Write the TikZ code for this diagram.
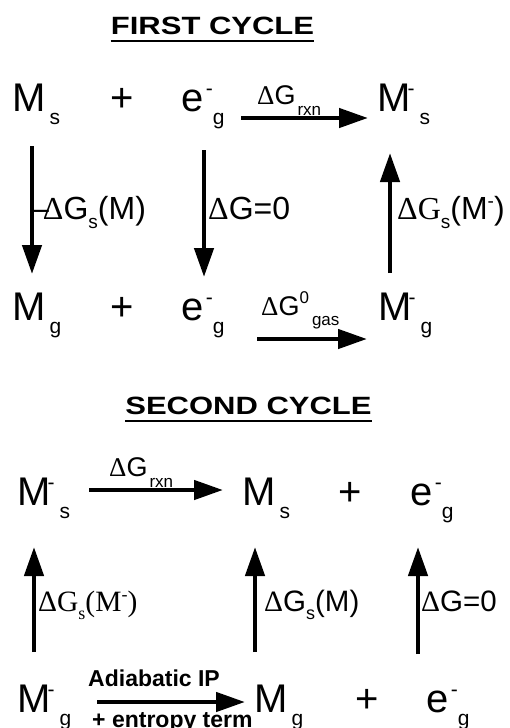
\documentclass[tikz,border=0pt]{standalone}
\usepackage{fontspec}
\setmainfont{Liberation Sans}
\newfontfamily\serifnt{Liberation Serif}
\newfontfamily\titlefnt[FakeStretch=1.24]{Liberation Sans}
\usetikzlibrary{arrows.meta,calc}
\newcommand\bigsz{\fontsize{40}{40}\selectfont}
\newcommand\smsz{\fontsize{21}{21}\selectfont}
\newcommand\lblsz{\fontsize{29.5}{29.5}\selectfont}
\newcommand\lblbig{\fontsize{32}{32}\selectfont}
\newcommand\lblsub{\fontsize{18}{18}\selectfont}
\newcommand\lblsubb{\fontsize{19}{19}\selectfont}
\newcommand\rxnsz{\fontsize{27}{27}\selectfont}
\newcommand\rxnsub{\fontsize{17}{17}\selectfont}
% base, sup, sub, supkern, subkern
\newcommand\spec[5]{#1\rlap{\kern#4\raisebox{16pt}{\smsz #2}}\kern#5\raisebox{-13pt}{\smsz #3}}
\tikzset{
 spc/.style={anchor=base west, inner sep=0pt, font=\bigsz},
 lbl/.style={anchor=base west, inner sep=0pt, font=\lblsz},
 lblb/.style={anchor=base west, inner sep=0pt, font=\lblbig},
 rlbl/.style={anchor=base west, inner sep=0pt, font=\rxnsz},
 ttl/.style={anchor=base, inner sep=0pt, font=\titlefnt\bfseries\fontsize{25}{25}\selectfont},
 boldtxt/.style={anchor=base west, inner sep=0pt, font=\bfseries\fontsize{23}{23}\selectfont},
 arr/.style={line width=4.5pt, -{Triangle[length=29pt,width=19pt]}},
 uline/.style={line width=2.5pt}
}
\begin{document}
\begin{tikzpicture}[x=1pt,y=-1pt]
\fill[white] (0,0) rectangle (510,728);
\useasboundingbox (0,0) rectangle (510,728);
% ---------- FIRST CYCLE ----------
\node[ttl] (t1) at (212.5,34) {FIRST CYCLE};
\draw[uline] ($(t1.base west)+(0,7)$) -- ($(t1.base east)+(0,7)$);
% row 1
\node[spc] (Ms1) at (12,111) {\spec{M}{}{s}{0pt}{4pt}};
\node[spc] (p1) at (110,111) {+};
\node[spc] (e1) at (181.5,111) {\spec{e}{-}{g}{2pt}{9pt}};
\node[spc] (Mm1) at (377,111) {\spec{M}{-}{s}{-3pt}{9pt}};
\coordinate (r1s) at (241,118);
\coordinate (r1e) at (368,118);
\draw[arr] (r1s) -- (r1e);
\node[rlbl] (lr1) at (257,104) {{\serifnt Δ}G\kern2pt\raisebox{-11pt}{\rxnsub rxn}};
% row 2
\node[spc] (Mg2) at (12,320) {\spec{M}{}{g}{0pt}{4pt}};
\node[spc] (p2) at (110,320) {+};
\node[spc] (e2) at (181.5,320) {\spec{e}{-}{g}{2pt}{9pt}};
\node[spc] (Mm2) at (378,320) {\spec{M}{-}{g}{-3pt}{9pt}};
\coordinate (r2s) at (257,339);
\coordinate (r2e) at (367,339);
\draw[arr] (r2s) -- (r2e);
\node[rlbl] (lr2) at (261,315) {{\serifnt Δ}G\raisebox{12pt}{\rxnsub 0}\kern3pt\raisebox{-10pt}{\rxnsub gas}};
% vertical arrows
\coordinate (v1s) at (32,146);
\coordinate (v1e) at (32,274);
\coordinate (v2s) at (204,150);
\coordinate (v2e) at (204,277);
\coordinate (v3s) at (390,273);
\coordinate (v3e) at (390,153);
\draw[arr] (v1s) -- (v1e);
\draw[arr] (v2s) -- (v2e);
\draw[arr] (v3s) -- (v3e);
\node[lblb] (L1) at (31,219) {–\kern-6pt{\serifnt Δ}G\raisebox{-9pt}{\lblsubb s}(M)};
\node[lblb] (L2) at (208,219) {{\serifnt Δ}G=0};
\node[lblb] (L3) at (397,219) {{\serifnt ΔG}\raisebox{-9pt}{\lblsubb s}(M\raisebox{12pt}{\lblsubb -})};
% ---------- SECOND CYCLE ----------
\node[ttl] (t2) at (248.5,414) {SECOND CYCLE};
\draw[uline] ($(t2.base west)+(0,7)$) -- ($(t2.base east)+(0,7)$);
% row 3
\node[spc] (Mm3) at (17,505) {\spec{M}{-}{s}{-3pt}{9pt}};
\coordinate (r3s) at (89,490);
\coordinate (r3e) at (223,490);
\draw[arr] (r3s) -- (r3e);
\node[rlbl] (lr3) at (109,476) {{\serifnt Δ}G\kern2pt\raisebox{-11pt}{\rxnsub rxn}};
\node[spc] (Ms3) at (242,505) {\spec{M}{}{s}{0pt}{4pt}};
\node[spc] (p3) at (338,505) {+};
\node[spc] (e3) at (410.5,505) {\spec{e}{-}{g}{2pt}{9pt}};
% vertical arrows
\coordinate (u1s) at (34,652);
\coordinate (u1e) at (34,547);
\coordinate (u2s) at (255,652);
\coordinate (u2e) at (255,547);
\coordinate (u3s) at (418,654);
\coordinate (u3e) at (418,547);
\draw[arr] (u1s) -- (u1e);
\draw[arr] (u2s) -- (u2e);
\draw[arr] (u3s) -- (u3e);
\node[lbl] (L4) at (38,611) {\serifnt ΔG\raisebox{-8pt}{\lblsub s}(M\raisebox{11pt}{\lblsub -})};
\node[lbl] (L5) at (264,611) {{\serifnt Δ}G\raisebox{-8pt}{\lblsub s}(M)};
\node[lbl] (L6) at (421,611) {{\serifnt Δ}G=0};
% row 4
\node[spc] (Mm4) at (17,712) {\spec{M}{-}{g}{-3pt}{9pt}};
\coordinate (r4s) at (97,702);
\coordinate (r4e) at (245,702);
\draw[arr] (r4s) -- (r4e);
\node[boldtxt] (ad) at (88,686) {Adiabatic IP};
\node[boldtxt] (en) at (92,727) {+ entropy term};
\node[spc] (Mg4) at (254,712) {\spec{M}{}{g}{0pt}{4pt}};
\node[spc] (p4) at (355,712) {+};
\node[spc] (e4) at (426.5,712) {\spec{e}{-}{g}{2pt}{9pt}};
\end{tikzpicture}
\end{document}
